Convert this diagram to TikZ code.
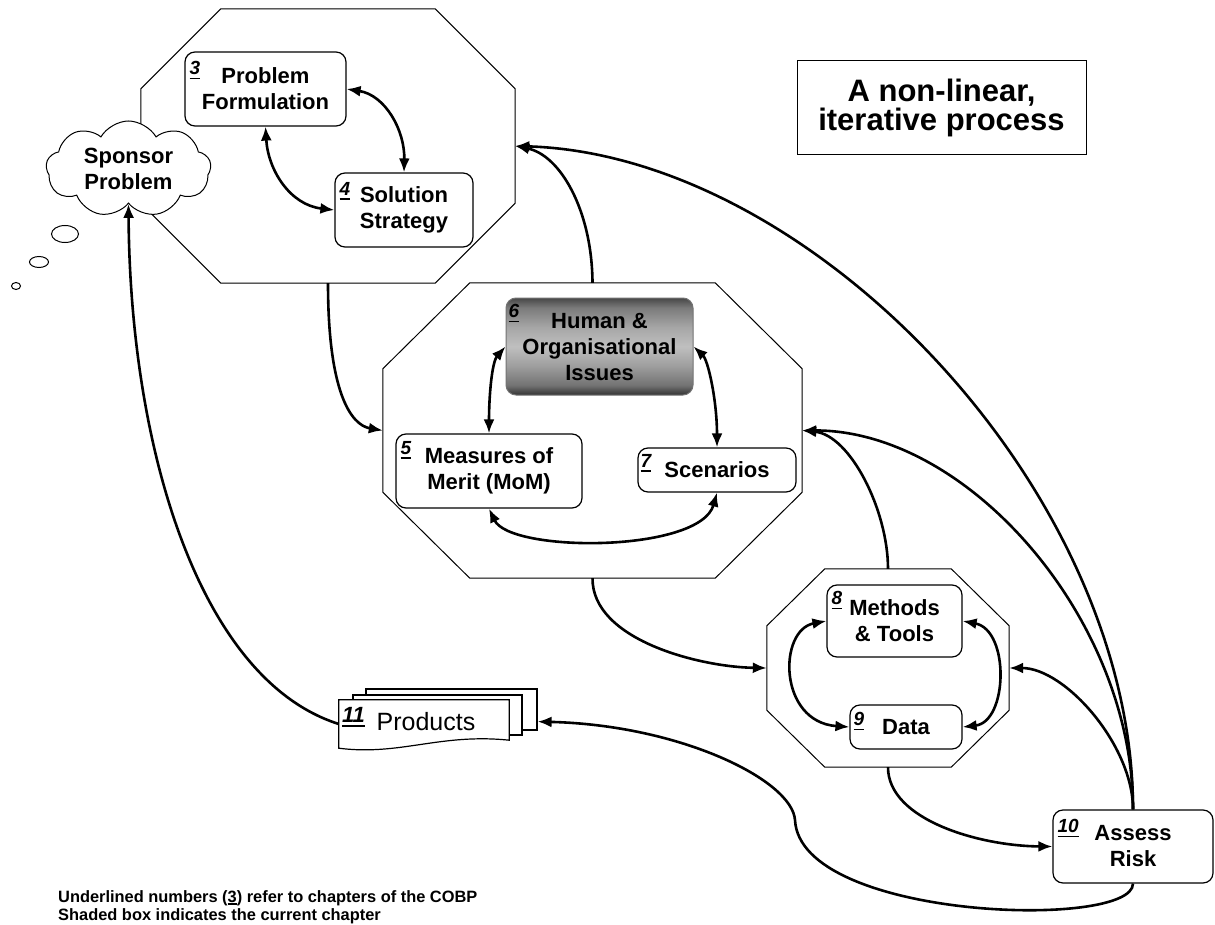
\documentclass[tikz,border=0pt]{standalone}
\usepackage{fontspec}
\setmainfont{Liberation Sans}
\usetikzlibrary{shapes.symbols,shapes.geometric,arrows.meta,calc}

\newcommand{\chnum}[1]{\setbox0\hbox{#1}\rlap{\rule[-4.5pt]{\wd0}{1.8pt}}\box0}
\newcommand{\notenum}[1]{\setbox0\hbox{#1}\rlap{\rule[-2.5pt]{\wd0}{1.1pt}}\box0}
\newcommand{\octo}[3]{%
  \draw[octline] ($(#1.north west)+(#2,0)$) -- ($(#1.north east)+(-#2,0)$)
    -- ($(#1.north east)+(0,#3)$) -- ($(#1.south east)+(0,-#3)$)
    -- ($(#1.south east)+(-#2,0)$) -- ($(#1.south west)+(#2,0)$)
    -- ($(#1.south west)+(0,-#3)$) -- ($(#1.north west)+(0,#3)$) -- cycle;}
\pgfdeclareverticalshading{metalshade}{100bp}{color(0bp)=(black!80); color(25bp)=(black!80); color(30bp)=(black!55); color(40bp)=(black!38); color(50bp)=(black!25); color(60bp)=(black!35); color(70bp)=(black!52); color(75bp)=(black!72); color(100bp)=(black!72)}

\begin{document}
\begin{tikzpicture}[x=1pt,y=-1pt,
  octline/.style={draw=black, line width=1pt, fill=white},
  octnode/.style={rectangle, draw=none, inner sep=0pt},
  box/.style={rectangle, rounded corners=10pt, draw=black, line width=1.2pt, fill=white,
    inner sep=0pt, align=center, font={\bfseries\fontsize{22}{26}\selectfont}},
  shadedbox/.style={box, draw=black!55, line width=1pt, shading=metalshade, shading angle=0},
  num/.style={anchor=north west, inner sep=0pt, font={\bfseries\itshape\fontsize{19}{19}\selectfont}},
  page/.style={rectangle, draw=black, line width=1.2pt, fill=white, inner sep=0pt},
  bubble/.style={ellipse, draw=black, line width=1pt, fill=white, inner sep=0pt},
  conn/.style={line width=2.6pt, -{Latex[length=14pt,width=11pt]}},
  biconn/.style={line width=2.6pt, {Latex[length=14pt,width=11pt]}-{Latex[length=14pt,width=11pt]}}
]
\useasboundingbox (0,0) rectangle (1215,925);

% octagons
\node[octnode, minimum width=374pt, minimum height=274pt] (o1) at (328,146) {};
\octo{o1}{80}{80}
\node[octnode, minimum width=419pt, minimum height=295pt] (o2) at (592.5,430.5) {};
\octo{o2}{87}{86}
\node[octnode, minimum width=242pt, minimum height=198pt] (o3) at (888,668) {};
\octo{o3}{58}{57}

% cloud and thought bubbles
\node[cloud, draw=black, line width=1pt, fill=white, cloud puffs=9, cloud puff arc=120,
  aspect=1.7, minimum width=165pt, minimum height=96pt, inner sep=0pt] (cloud) at (128.5,169) {};
\node[align=center, font={\bfseries\fontsize{22}{26}\selectfont}] (cloudtext) at (cloud.center) {Sponsor\\Problem};
\node[bubble, minimum width=27pt, minimum height=17pt] (t1) at (65,234) {};
\node[bubble, minimum width=19pt, minimum height=11pt] (t2) at (39,262) {};
\node[bubble, minimum width=9pt, minimum height=7pt] (t3) at (16,286) {};

% boxes
\node[box, minimum width=161pt, minimum height=74pt] (b3) at (265.5,89) {Problem\\Formulation};
\node[box, minimum width=138pt, minimum height=74pt] (b4) at (404,210) {Solution\\Strategy};
\node[box, minimum width=186pt, minimum height=74pt] (b5) at (489,471) {Measures of\\Merit (MoM)};
\node[shadedbox, minimum width=187pt, minimum height=97pt] (b6) at (599.5,346.5) {Human \&\\Organisational\\Issues};
\node[box, minimum width=158pt, minimum height=44pt] (b7) at (717,470) {Scenarios};
\node[box, minimum width=135pt, minimum height=72pt] (b8) at (894.5,621) {Methods\\\& Tools};
\node[box, minimum width=112pt, minimum height=44pt] (b9) at (906,727) {Data};
\node[box, minimum width=160pt, minimum height=73pt] (b10) at (1133,846.5) {Assess\\Risk};

\node[num] (n3) at ($(b3.north west)+(5,10)$) {\chnum{3}};
\node[num] (n4) at ($(b4.north west)+(5,10)$) {\chnum{4}};
\node[num] (n5) at ($(b5.north west)+(5,8)$) {\chnum{5}};
\node[num] (n6) at ($(b6.north west)+(3,7)$) {\chnum{6}};
\node[num] (n7) at ($(b7.north west)+(3,7)$) {\chnum{7}};
\node[num] (n8) at ($(b8.north west)+(5,7)$) {\chnum{8}};
\node[num] (n9) at ($(b9.north west)+(4,8)$) {\chnum{9}};
\node[num] (n10) at ($(b10.north west)+(5,10)$) {\chnum{10}};

% products
\node[page, minimum width=171pt, minimum height=41pt] (p3) at (451.5,709.5) {};
\node[page, minimum width=169pt, minimum height=40pt] (p2) at (437.5,715) {};
\node[octnode, minimum width=170pt, minimum height=48pt] (p1) at (424,724) {};
\draw[line width=1.2pt, fill=white] (p1.north west) -- (p1.north east) -- ($(p1.south east)+(0,-8)$)
  .. controls (440,733) and (400,756) .. (p1.south west) -- cycle;
\node[anchor=base, inner sep=0pt, font={\fontsize{25}{25}\selectfont}] (prodtext) at (426,730) {Products};
\node[num, font={\bfseries\itshape\fontsize{22}{22}\selectfont}] (n11) at ($(p1.north west)+(3,7)$) {\chnum{11}};
\coordinate (prodin) at ($(p3.south east)+(0,-9)$);

% title
\node[draw=black, line width=1pt, minimum width=289pt, minimum height=94pt, inner sep=0pt, align=center,
  font={\bfseries\fontsize{31}{29}\selectfont}] (title) at (941.5,108) {A non-linear,\\iterative process};

% note
\node[anchor=north west, inner sep=0pt, align=left, font={\bfseries\fontsize{16.4}{18.5}\selectfont}] (note) at (58,890)
  {Underlined numbers (\notenum{3}) refer to chapters of the COBP\\Shaded box indicates the current chapter};

% connectors inside octagons
\draw[biconn] (b3.east) .. controls (385,95) and (405,130) .. (b4.north);
\draw[biconn] (b3.south) .. controls (268,170) and (290,205) .. (b4.west);
\draw[biconn] (b6.west) .. controls (492,362) and (489,395) .. (b5.north);
\draw[biconn] (b6.east) .. controls (708,360) and (717,400) .. (b7.north);
\draw[biconn] (b5.south) .. controls (510,553) and (700,553) .. (b7.south);
\draw[biconn] (b8.west) .. controls (778,630) and (778,722) .. (b9.west);
\draw[biconn] (b8.east) .. controls (1010,630) and (1008,722) .. (b9.east);

% connectors between stages
\draw[conn] (o1.south) .. controls (328,390) and (350,425) .. (o2.west);
\draw[conn] (o2.north) .. controls (592,210) and (560,155) .. (o1.east);
\draw[conn] (b10.north) .. controls (1133,491) and (813,155) .. (o1.east);
\draw[conn] (b10.north) .. controls (1133,619) and (968,430) .. (o2.east);
\draw[conn] (b10.north) .. controls (1133,745) and (1065,668) .. (o3.east);
\draw[conn] (o3.north) .. controls (888,510) and (850,435) .. (o2.east);
\draw[conn] (o2.south) .. controls (592,640) and (700,667) .. (o3.west);
\draw[conn] (o3.south) .. controls (888,820) and (980,846) .. (b10.west);
\draw[conn] (b10.south) .. controls (1133,930) and (800,920) .. (795,820)
  .. controls (792,780) and (680,725) .. (prodin);
\draw[conn] (p1.west) .. controls (200,680) and (130,450) .. (cloud.south);
\end{tikzpicture}
\end{document}
